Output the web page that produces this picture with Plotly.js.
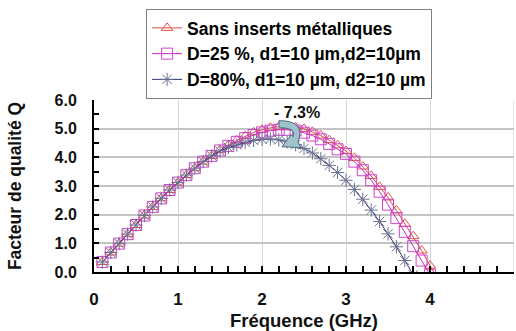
<!DOCTYPE html>
<html>
<head>
<meta charset="utf-8">
<script src="https://cdn.plot.ly/plotly-3.0.1.min.js"></script>
<style>html,body{margin:0;padding:0;background:#fff;}#chart{width:516px;height:331px;}</style>
</head>
<body>
<div id="chart"></div>
<script>
// Frequency (GHz)
const freq = [0.1,0.2,0.3,0.4,0.5,0.6,0.7,0.8,0.9,1.0,1.1,1.2,1.3,1.4,1.5,1.6,1.7,1.8,1.9,2.0,
              2.1,2.2,2.3,2.4,2.5,2.6,2.7,2.8,2.9,3.0,3.1,3.2,3.3,3.4,3.5,3.6,3.7,3.8,3.9,4.0,4.1];
// Quality factor Q
const qSans = [0.35,0.68,0.99,1.32,1.64,1.97,2.27,2.57,2.86,3.12,3.38,3.62,3.85,4.05,4.25,4.43,4.59,4.74,4.87,4.96,
               5.03,5.07,5.08,5.05,4.99,4.89,4.76,4.60,4.42,4.22,3.98,3.68,3.35,2.97,2.60,2.15,1.68,1.25,0.75,0.22,-0.30];
const qD25  = [0.35,0.68,0.99,1.32,1.64,1.97,2.27,2.57,2.86,3.12,3.38,3.62,3.85,4.05,4.24,4.40,4.54,4.67,4.78,4.87,
               4.93,4.96,4.96,4.93,4.86,4.76,4.63,4.47,4.28,4.12,3.85,3.55,3.20,2.80,2.35,1.88,1.40,0.90,0.40,-0.10];
const qD80  = [0.35,0.68,0.99,1.32,1.64,1.97,2.27,2.57,2.86,3.12,3.38,3.62,3.85,4.05,4.22,4.34,4.43,4.52,4.59,4.63,
               4.64,4.61,4.54,4.44,4.31,4.15,3.95,3.72,3.47,3.20,2.88,2.54,2.16,1.76,1.33,0.88,0.40,-0.10];
const seriesNames = ['Sans inserts métalliques','D=25 %, d1=10 µm,d2=10µm','D=80%, d1=10 µm, d2=10 µm'];
const xTickVals = [0,1,2,3,4,5];
const yTickVals = [0,1,2,3,4,5,6];
const annotationText = '- 7.3%';

const F = 'Liberation Sans, Arial, Helvetica, sans-serif';

const traces = [
  {x: freq, y: qSans, name: seriesNames[0], type: 'scatter', mode: 'lines+markers',
   line: {color: '#e04848', width: 1},
   marker: {symbol: 'triangle-up-open', size: 10, color: '#e05050', line: {width: 1}}},
  {x: freq.slice(0, qD25.length), y: qD25, name: seriesNames[1], type: 'scatter', mode: 'lines+markers',
   line: {color: '#cc22cc', width: 1},
   marker: {symbol: 'square-open', size: 11, color: '#cc44cc', line: {width: 1}}},
  {x: freq.slice(0, qD80.length), y: qD80, name: seriesNames[2], type: 'scatter', mode: 'lines+markers',
   line: {color: '#333377', width: 1},
   marker: {symbol: 'asterisk-open', size: 11, color: '#6a7090', line: {width: 1}}}
];

const layout = {
  width: 516, height: 331,
  margin: {l: 94, r: 2, t: 100, b: 59},
  paper_bgcolor: '#fff', plot_bgcolor: '#fff',
  font: {family: F, color: '#000'},
  showlegend: true,
  legend: {x: 0.124, y: 1.529, xanchor: 'left', yanchor: 'top',
           bgcolor: '#fff', bordercolor: '#808080', borderwidth: 1,
           font: {family: F, size: 17.5, color: '#000', weight: 'bold'}},
  xaxis: {range: [0, 5], tickvals: xTickVals, ticktext: xTickVals.map(String),
          showgrid: true, gridcolor: '#d6d6d6', gridwidth: 1,
          showline: true, linecolor: '#000', linewidth: 2, zeroline: false,
          ticks: 'inside', ticklen: 6, tickwidth: 2, tickcolor: '#000',
          minor: {dtick: 0.2, ticks: 'inside', ticklen: 6, tickwidth: 2, tickcolor: '#000', showgrid: false},
          ticklabelstandoff: 11,
          tickfont: {family: F, size: 17, color: '#111', weight: 'bold'},
          title: {text: 'Fréquence (GHz)', standoff: 6, font: {family: F, size: 18.5, color: '#111', weight: 'bold'}}},
  yaxis: {range: [0, 6], tickvals: yTickVals, tickformat: '.1f',
          showgrid: true, gridcolor: '#c4c4c4', gridwidth: 2,
          showline: true, linecolor: '#000', linewidth: 2, zeroline: false,
          ticks: 'inside', ticklen: 5, tickwidth: 2, tickcolor: '#000',
          minor: {dtick: 0.5, ticks: 'inside', ticklen: 5, tickwidth: 2, tickcolor: '#000', showgrid: false},
          ticklabelstandoff: 12,
          tickfont: {family: F, size: 16, color: '#111', weight: 'bold'},
          title: {text: 'Facteur de qualité Q', standoff: 28, font: {family: F, size: 17.5, color: '#111', weight: 'bold'}}},
  annotations: [
    {x: 2.42, y: 5.56, xref: 'x', yref: 'y', text: annotationText, showarrow: false,
     font: {family: F, size: 16, color: '#111', weight: 'bold'}}
  ],
  shapes: [
    {type: 'line', xref: 'x', yref: 'paper', x0: 5, x1: 5, y0: 0, y1: 1, layer: 'below',
     line: {color: '#c8c8c8', width: 1}},
    {type: 'path', xref: 'x', yref: 'y', layer: 'above',
     path: 'M2.2024,5.2797 Q2.5238,5.2797 2.4286,4.5455 L2.4643,4.3357 L2.2381,4.3706 L2.3452,4.7902 L2.3690,4.7203 Q2.4167,5.0350 2.2024,5.0350 Z',
     fillcolor: '#9ec3cc', line: {color: '#4d6b78', width: 1}}
  ]
};

Plotly.newPlot('chart', traces, layout, {staticPlot: true, displayModeBar: false});
</script>
</body>
</html>
